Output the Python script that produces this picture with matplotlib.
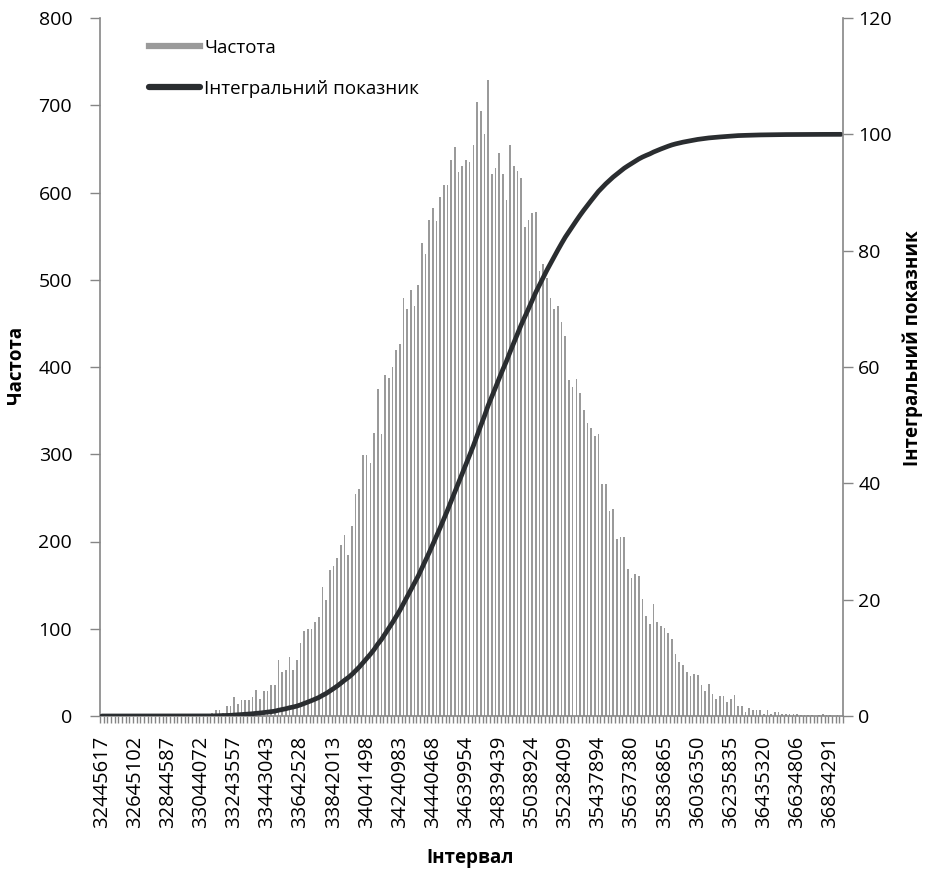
import numpy as np
import matplotlib
matplotlib.use("Agg")
import matplotlib.pyplot as plt
from matplotlib.lines import Line2D

plt.rcParams['font.family'] = ['Open Sans', 'DejaVu Sans']

# Частоти по інтервалах
freq = [0] * 28 + [
    1, 1, 4, 7, 7, 4, 11, 11, 22, 14, 18, 18, 18, 22, 30, 20, 29, 29, 35, 35,      # 28-47
    64, 51, 53, 68, 53, 64, 84, 97, 100, 100, 108, 113,                            # 48-59
    148, 133, 167, 172, 181, 196, 207, 185, 218, 255, 260, 299, 299, 290, 324,     # 60-74
    375, 323, 391, 387, 400, 419, 426, 479, 467, 488, 470, 494, 542, 529, 568,     # 75-89
    582, 567, 595, 609, 609, 637, 652, 623, 630, 637, 635, 654, 704, 693, 667,     # 90-104
    729, 621, 628, 645, 621, 591, 654, 630, 625, 617, 561, 568, 576, 578, 510,     # 105-119
    518, 502, 479, 466, 470, 452, 436, 385, 377, 386, 370, 351, 336, 330, 321,     # 120-134
    323, 266, 266, 235, 237, 203, 205, 205, 169, 158, 163, 160, 134, 115, 106,     # 135-149
    128, 108, 103, 101, 95, 88, 71, 62, 58, 51, 46, 48, 47, 36, 29,                # 150-164
    37, 25, 20, 23, 23, 16, 20, 24, 12, 12, 5, 9, 7, 7, 7,                         # 165-179
    2, 7, 2, 5, 5, 2, 2, 2, 2, 2, 1, 1, 1, 1, 0,                                   # 180-194
    1, 2, 1, 1, 0, 1, 0,                                                           # 195-201
]

tick_labels = ['32445617', '32645102', '32844587', '33044072', '33243557',
               '33443043', '33642528', '33842013', '34041498', '34240983',
               '34440468', '34639954', '34839439', '35038924', '35238409',
               '35437894', '35637380', '35836865', '36036350', '36235835',
               '36435320', '36634806', '36834291']
label_step = 9

freq = np.array(freq)
n = len(freq)
x = np.arange(n)
# інтегральний показник, %
cum = np.cumsum(freq) / freq.sum() * 100

gray = '#9a9a9a'
axis_gray = '#868686'
dark = '#2a2d30'

fig = plt.figure(figsize=(9.27, 8.74), dpi=100)
ax = fig.add_axes([100/927, 1 - 716/874, 743/927, 698/874])

ax.bar(x, freq, width=0.45, color=gray)
ax.set_xlim(-0.5, n - 0.5)
ax.set_ylim(0, 800)
ax.set_yticks(range(0, 801, 100))

ax.set_xticks(np.arange(0, n, label_step)[:len(tick_labels)])
ax.set_xticklabels(tick_labels, rotation=90, fontsize=14.5)
ax.set_xticks(np.arange(-0.5, n, 1), minor=True)
ax.tick_params(axis='x', which='major', length=0, pad=14)
ax.tick_params(axis='x', which='minor', length=5, width=1, color=axis_gray)
ax.tick_params(axis='y', direction='out', length=7, width=1, color=axis_gray,
               pad=13, labelsize=14)

for s in ['top', 'right']:
    ax.spines[s].set_visible(False)
for s in ['left', 'bottom']:
    ax.spines[s].set_color(axis_gray)
    ax.spines[s].set_linewidth(1.2)

ax2 = ax.twinx()
ax2.plot(x, cum, color=dark, lw=3.4, solid_capstyle='round')
ax2.set_ylim(0, 120)
ax2.set_yticks(range(0, 121, 20))
ax2.tick_params(axis='y', direction='out', length=7, width=1, color=axis_gray,
                pad=4, labelsize=14)
for s in ['top', 'left', 'bottom']:
    ax2.spines[s].set_visible(False)
ax2.spines['right'].set_color(axis_gray)
ax2.spines['right'].set_linewidth(1.2)

fig.text(16/927, 1 - 365/874, 'Частота', rotation=90, ha='center', va='center',
         fontsize=13.5, fontweight='bold')
fig.text(913/927, 1 - 348/874, 'Інтегральний показник', rotation=90,
         ha='center', va='center', fontsize=13.5, fontweight='bold')
fig.text(470/927, 1 - 858/874, 'Інтервал', ha='center', va='center',
         fontsize=13.5, fontweight='bold')

handles = [Line2D([], [], color=gray, lw=4.5),
           Line2D([], [], color=dark, lw=4.5, solid_capstyle='round')]
fig.legend(handles, ['Частота', 'Інтегральний показник'],
           loc='upper left', bbox_to_anchor=(149/927, 1 - 39/874),
           frameon=False, fontsize=13.5, handlelength=2.7, handletextpad=0.25,
           labelspacing=1.2, borderpad=0, borderaxespad=0)

fig.savefig('out.png', dpi=100)
